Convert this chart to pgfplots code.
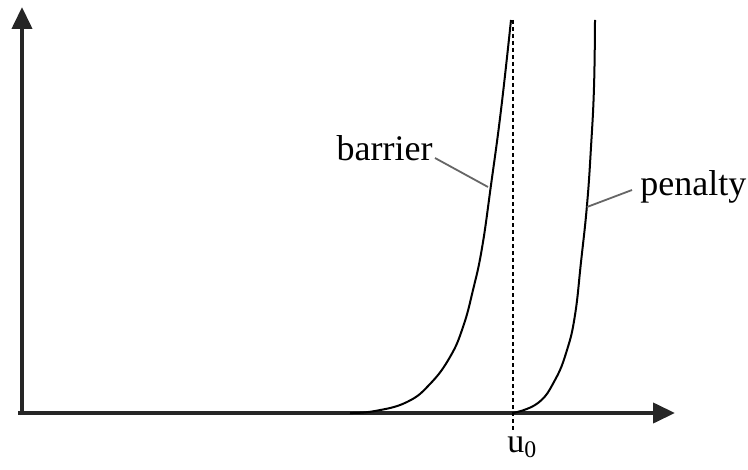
\documentclass[border=0pt]{standalone}
\usepackage{pgfplots}
\pgfplotsset{compat=1.18}
\usepackage{fontspec}
\setmainfont{Liberation Serif}
\usetikzlibrary{arrows.meta}
\begin{document}
\begin{tikzpicture}
\begin{axis}[scale only axis, width=374pt, height=235pt,
  xmin=0, xmax=748, ymin=0, ymax=470, y dir=reverse,
  hide axis, clip=false]
\path (rel axis cs:0,0) rectangle (rel axis cs:1,1);
% axes
\addplot[black!85, line width=2pt, -{Triangle[length=11pt,width=10pt]}] coordinates {(18,413) (675,413)};
\addplot[black!85, line width=2pt, -{Triangle[length=11pt,width=10pt]}] coordinates {(22,415) (22,7)};
% dashed u0 line
\addplot[black, line width=0.8pt, dash pattern=on 2pt off 1.5pt] coordinates {(513,20) (513,432)};
% barrier
\addplot[black, line width=1pt, smooth, tension=0.75] coordinates {
(350,413) (375,411) (407,402) (430,384) (450,357) (463,327) (473,290) (482,248) (491,185) (501,110) (511,20)};
% penalty
\addplot[black, line width=1pt, smooth, tension=0.75] coordinates {
(513,413) (538,403) (555,380) (567,350) (575,315) (581,262) (587,205) (591,147) (594,87) (595,20)};
% leaders
\addplot[black!60, line width=0.9pt] coordinates {(435,158) (488,187)};
\addplot[black!60, line width=0.9pt] coordinates {(632,190) (587,207)};
% labels
\node[anchor=base east, inner sep=0pt, font=\fontsize{18}{20}\selectfont] at (axis cs:433,161) {barrier};
\node[anchor=base west, inner sep=0pt, font=\fontsize{18}{20}\selectfont] at (axis cs:640,196) {penalty};
\node[anchor=base west, inner sep=0pt, font=\fontsize{17}{20}\selectfont] at (axis cs:507,452) {u\textsubscript{0}};
\end{axis}
\end{tikzpicture}
\end{document}
